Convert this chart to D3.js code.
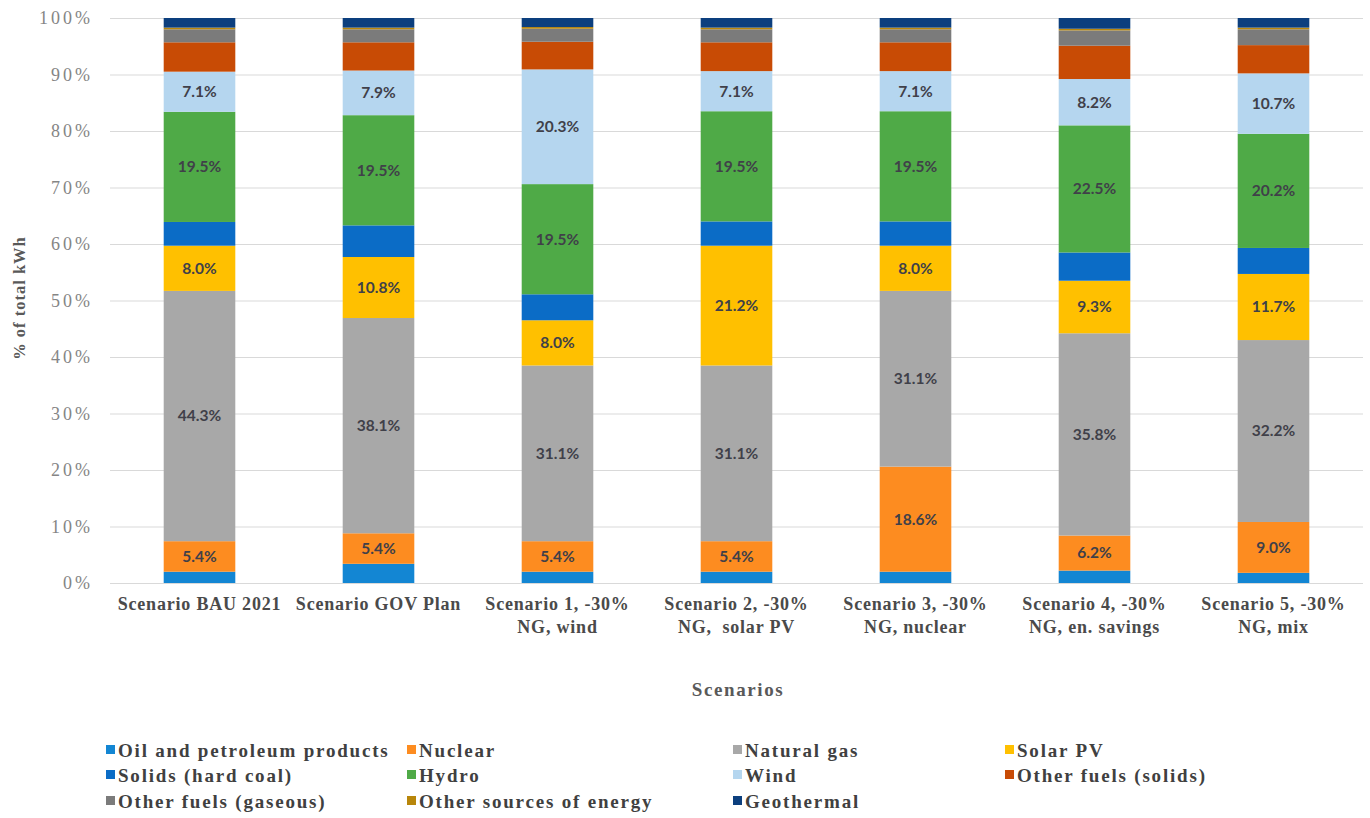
<!DOCTYPE html>
<html>
<head>
<meta charset="utf-8">
<script src="https://cdn.jsdelivr.net/npm/d3@7"></script>
<style>
  html, body { margin: 0; padding: 0; background: #fff; }
  svg { display: block; }
</style>
</head>
<body>
<svg id="chart" width="1370" height="818"></svg>
<script>
// ---- data ----
const categories = [
  "Scenario BAU 2021",
  "Scenario GOV Plan",
  "Scenario 1, -30%\nNG, wind",
  "Scenario 2, -30%\nNG,  solar PV",
  "Scenario 3, -30%\nNG, nuclear",
  "Scenario 4, -30%\nNG, en. savings",
  "Scenario 5, -30%\nNG, mix"
];
const seriesNames = [
  "Oil and petroleum products", "Nuclear", "Natural gas", "Solar PV",
  "Solids (hard coal)", "Hydro", "Wind", "Other fuels (solids)",
  "Other fuels (gaseous)", "Other sources of energy", "Geothermal"
];
const oil        = [2.0, 3.4, 2.0, 2.0, 2.0, 2.2, 1.8];
const nuclear    = [5.4, 5.4, 5.4, 5.4, 18.6, 6.2, 9.0];
const naturalGas = [44.3, 38.1, 31.1, 31.1, 31.1, 35.8, 32.2];
const solarPV    = [8.0, 10.8, 8.0, 21.2, 8.0, 9.3, 11.7];
const solids     = [4.2, 5.6, 4.6, 4.3, 4.3, 5.0, 4.6];
const hydro      = [19.5, 19.5, 19.5, 19.5, 19.5, 22.5, 20.2];
const wind       = [7.1, 7.9, 20.3, 7.1, 7.1, 8.2, 10.7];
const otherSolid = [5.2, 5.0, 4.9, 5.1, 5.1, 5.9, 5.0];
const otherGas   = [2.3, 2.3, 2.3, 2.3, 2.3, 2.7, 2.8];
const otherSrc   = [0.3, 0.3, 0.3, 0.3, 0.3, 0.3, 0.3];
const geothermal = [1.7, 1.7, 1.6, 1.7, 1.7, 1.9, 1.7];
const seriesValues = [oil, nuclear, naturalGas, solarPV, solids, hydro, wind,
                      otherSolid, otherGas, otherSrc, geothermal];
const labeledSeries = ["Nuclear", "Natural gas", "Solar PV", "Hydro", "Wind"];
const yTicks = [0, 0.1, 0.2, 0.3, 0.4, 0.5, 0.6, 0.7, 0.8, 0.9, 1.0];

const colors = ["#1386d3", "#fd8c20", "#a8a8a8", "#ffc000", "#0b6cc6", "#4faa47",
                "#b5d6ef", "#c84b05", "#7b7b7b", "#b8860b", "#0c3f7e"];

// ---- build table ----
const table = categories.map((c, i) => {
  const row = { cat: c };
  seriesNames.forEach((s, j) => row[s] = seriesValues[j][i] / 100);
  return row;
});
const stacked = d3.stack().keys(seriesNames)(table);

const svg = d3.select("#chart");
const x = d3.scaleBand().domain(categories).range([110, 1363])
  .paddingInner(0.6).paddingOuter(0.3);
const y = d3.scaleLinear().domain([0, 1]).range([583, 18]);
const color = d3.scaleOrdinal().domain(seriesNames).range(colors);

// grid
svg.append("g")
  .attr("transform", "translate(110,0)")
  .call(d3.axisLeft(y).tickValues(yTicks).tickSize(-1253).tickFormat(""))
  .call(g => g.select(".domain").remove())
  .call(g => g.selectAll("line").attr("stroke", "#d9d9d9").attr("stroke-width", 1.2));

// y axis labels
svg.append("g")
  .attr("transform", "translate(96,0)")
  .call(d3.axisLeft(y).tickValues(yTicks).tickSize(0).tickFormat(d3.format(".0%")))
  .call(g => g.select(".domain").remove())
  .call(g => g.selectAll("text")
    .attr("font-family", "'Liberation Serif', serif")
    .attr("font-size", 18).attr("letter-spacing", 3).attr("fill", "#858585"));

// bars
svg.append("g").selectAll("g").data(stacked).join("g")
  .attr("fill", d => color(d.key))
  .selectAll("rect").data(d => d).join("rect")
  .attr("x", d => x(d.data.cat))
  .attr("width", x.bandwidth())
  .attr("y", d => y(d[1]))
  .attr("height", d => y(d[0]) - y(d[1]));

// value labels
svg.append("g").selectAll("g")
  .data(stacked.filter(s => labeledSeries.includes(s.key))).join("g")
  .selectAll("text").data(d => d).join("text")
  .attr("x", d => x(d.data.cat) + x.bandwidth() / 2)
  .attr("y", d => (y(d[0]) + y(d[1])) / 2)
  .attr("dy", "0.35em")
  .attr("text-anchor", "middle")
  .attr("font-family", "Lato, 'Open Sans', sans-serif")
  .attr("font-weight", "bold")
  .attr("font-size", 15.5)
  .attr("fill", "#404049")
  .text(d => ((d[1] - d[0]) * 100).toFixed(1) + "%");

// x axis labels
const xl = svg.append("g").selectAll("text").data(categories).join("text")
  .attr("x", d => x(d) + x.bandwidth() / 2)
  .attr("y", 610)
  .attr("text-anchor", "middle")
  .attr("font-family", "'Liberation Serif', serif")
  .attr("font-weight", "bold")
  .attr("font-size", 18)
  .attr("letter-spacing", 0.8)
  .attr("fill", "#4a4a4a")
  .style("white-space", "pre");
xl.selectAll("tspan").data(d => d.split("\n")).join("tspan")
  .attr("x", function() { return this.parentNode.getAttribute("x"); })
  .attr("dy", (d, i) => i === 0 ? 0 : 23)
  .text(d => d);

// axis titles
svg.append("text")
  .attr("x", 738).attr("y", 696)
  .attr("text-anchor", "middle")
  .attr("font-family", "'Liberation Serif', serif")
  .attr("font-weight", "bold").attr("font-size", 19)
  .attr("letter-spacing", 1.6)
  .attr("fill", "#595959")
  .text("Scenarios");
svg.append("text")
  .attr("transform", "translate(25,298) rotate(-90)")
  .attr("text-anchor", "middle")
  .attr("font-family", "'Liberation Serif', serif")
  .attr("font-weight", "bold").attr("font-size", 16.5)
  .attr("letter-spacing", 1)
  .attr("fill", "#595959")
  .text("% of total kWh");

// legend
const legendCols = [106, 407, 733, 1005];
const legendRows = [750, 775, 801];
const lg = svg.append("g").selectAll("g").data(seriesNames).join("g")
  .attr("transform", (d, i) => `translate(${legendCols[i % 4]},${legendRows[Math.floor(i / 4)]})`);
lg.append("rect")
  .attr("x", 0).attr("y", -5).attr("width", 9).attr("height", 9)
  .attr("fill", d => color(d));
lg.append("text")
  .attr("x", 12).attr("y", 0).attr("dy", "0.35em")
  .attr("font-family", "'Liberation Serif', serif")
  .attr("font-weight", "bold").attr("font-size", 19)
  .attr("letter-spacing", 1.8)
  .attr("fill", "#404040")
  .text(d => d);
</script>
</body>
</html>
